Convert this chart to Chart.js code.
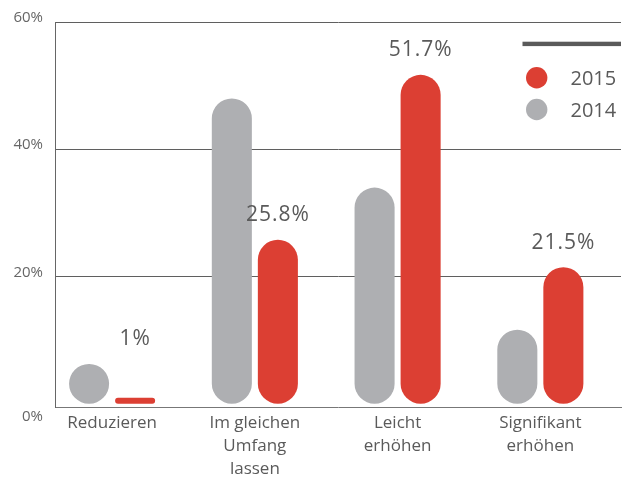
<!DOCTYPE html>
<html>
<head>
<meta charset="utf-8">
<script src="https://cdn.jsdelivr.net/npm/chart.js@4.4.1/dist/chart.umd.min.js"></script>
<style>
  html, body { margin: 0; padding: 0; background: #ffffff; }
  #wrap { width: 623px; height: 495px; position: relative; }
</style>
</head>
<body>
<div id="wrap"><canvas id="chart"></canvas></div>
<script>
// Categories and survey shares (in %)
const categories = ['Reduzieren', ['Im gleichen', 'Umfang', 'lassen'], ['Leicht', 'erhöhen'], ['Signifikant', 'erhöhen']];
const seriesLabels = ['2014', '2015'];
const values2014 = [6.3, 48.0, 34.0, 11.7];
const values2015 = [1, 25.8, 51.7, 21.5];
const yTicks = [0, 20, 40, 60];

const GRAY = '#aeafb2';
const RED = '#dc3f33';
const TEXT = '#5a5a5a';
const FONT = '"Open Sans", "DejaVu Sans", sans-serif';

// Value labels above the 2015 pills
const valueLabels = {
  id: 'valueLabels',
  afterDatasetsDraw(chart) {
    const ctx = chart.ctx;
    const meta = chart.getDatasetMeta(1);
    ctx.save();
    ctx.font = '21px ' + FONT;
    ctx.fillStyle = TEXT;
    ctx.textAlign = 'center';
    ctx.textBaseline = 'alphabetic';
    if ('letterSpacing' in ctx) ctx.letterSpacing = '1px';
    meta.data.forEach((bar, i) => {
      const p = bar.getProps(['x', 'y', 'base', 'width'], true);
      const top = Math.min(p.y, p.base - p.width);
      ctx.fillText(values2015[i] + '%', p.x, top - 18.5);
    });
    ctx.restore();
  }
};

// Percent labels for the value axis
const yLabels = {
  id: 'yLabels',
  afterDraw(chart) {
    const ctx = chart.ctx;
    const y = chart.scales.y;
    const area = chart.chartArea;
    ctx.save();
    ctx.font = '15px ' + FONT;
    ctx.fillStyle = '#666666';
    ctx.textAlign = 'right';
    ctx.textBaseline = 'middle';
    yTicks.forEach(v => {
      const py = v === 0 ? area.bottom + 10 : y.getPixelForValue(v) - 4.5;
      ctx.fillText(v + '%', 43, py);
    });
    ctx.restore();
  }
};

// Legend: bar rule on top, then 2015 and 2014 markers
const sideLegend = {
  id: 'sideLegend',
  afterDraw(chart) {
    const ctx = chart.ctx;
    ctx.save();
    ctx.fillStyle = '#5a5a5a';
    ctx.fillRect(522.5, 41.7, 98.5, 4.4);
    const order = [1, 0];
    ctx.font = '20px ' + FONT;
    ctx.textAlign = 'left';
    ctx.textBaseline = 'alphabetic';
    order.forEach((di, k) => {
      const ds = chart.data.datasets[di];
      const cy = 77.7 + k * 31.8;
      ctx.fillStyle = ds.backgroundColor;
      ctx.beginPath();
      ctx.arc(536.7, cy, 10.7, 0, Math.PI * 2);
      ctx.fill();
      ctx.fillStyle = TEXT;
      ctx.fillText(ds.label, 570.5, cy + 7.6);
    });
    ctx.restore();
  }
};

new Chart(document.getElementById('chart'), {
  type: 'bar',
  data: {
    datasets: [
      {
        label: seriesLabels[0],
        data: values2014.map((v, i) => ({ x: i, y: v })),
        backgroundColor: GRAY
      },
      {
        label: seriesLabels[1],
        data: values2015.map((v, i) => ({ x: i, y: v })),
        backgroundColor: RED
      }
    ]
  },
  options: {
    responsive: true,
    maintainAspectRatio: false,
    animation: false,
    devicePixelRatio: 1,
    layout: { padding: { left: 55, right: 2, top: 22, bottom: 10 } },
    datasets: {
      bar: {
        borderRadius: 40,
        borderSkipped: false,
        categoryPercentage: 0.645,
        barPercentage: 0.87
      }
    },
    plugins: {
      legend: { display: false },
      tooltip: { enabled: false }
    },
    scales: {
      x: {
        type: 'linear',
        offset: false,
        min: -0.4,
        max: 3.565,
        afterBuildTicks(scale) {
          scale.ticks = categories.map((c, i) => ({ value: i }));
        },
        grid: { display: false, drawTicks: false, offset: false },
        border: { display: true, color: '#777777', width: 1 },
        ticks: {
          padding: 5,
          autoSkip: false,
          maxRotation: 0,
          color: TEXT,
          font: { family: FONT, size: 17, lineHeight: 1.33 },
          callback: (v) => categories[v]
        }
      },
      y: {
        min: -0.47,
        max: 60,
        afterBuildTicks(scale) {
          scale.ticks = yTicks.map(v => ({ value: v }));
        },
        grid: {
          drawTicks: false,
          color: (c) => (c.tick && c.tick.value === 0 ? 'rgba(0,0,0,0)' : '#5f5f5f'),
          lineWidth: 1
        },
        border: { display: true, color: '#666666', width: 1 },
        ticks: { display: false }
      }
    }
  },
  plugins: [valueLabels, yLabels, sideLegend]
});
</script>
</body>
</html>
